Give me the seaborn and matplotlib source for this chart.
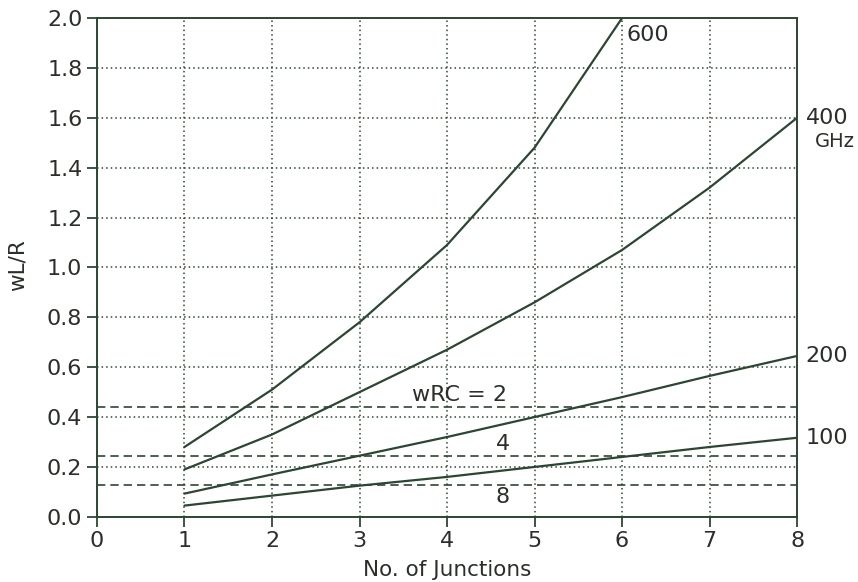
import matplotlib
matplotlib.use("Agg")
import matplotlib.pyplot as plt
import seaborn as sns
import pandas as pd

# data
junctions = [1, 2, 3, 4, 5, 6, 7, 8]
f100 = [0.045, 0.085, 0.125, 0.16, 0.20, 0.24, 0.28, 0.317]
f200 = [0.093, 0.17, 0.245, 0.32, 0.40, 0.48, 0.565, 0.645]
f400 = [0.19, 0.33, 0.50, 0.67, 0.86, 1.07, 1.32, 1.60]
f600 = [0.28, 0.51, 0.78, 1.09, 1.48, 2.0]
wrc_levels = [0.441, 0.243, 0.126]
wrc_labels = ["wRC = 2", "4", "8"]

ink = "#2c4632"
txtc = "#2a2f2a"

sns.set_style("ticks")
plt.rcParams['font.family'] = ['DejaVu Sans']

fig = plt.figure(figsize=(8.58, 5.82), dpi=100)
ax = fig.add_axes([0.113, 0.112, 0.816, 0.857])

rows = []
for name, vals in [("100", f100), ("200", f200), ("400", f400), ("600", f600)]:
    for x, y in zip(junctions, vals):
        rows.append({"n": x, "v": y, "f": name})
df = pd.DataFrame(rows)
sns.lineplot(data=df, x="n", y="v", hue="f", palette=[ink] * 4,
             linewidth=1.6, legend=False, ax=ax, zorder=3)

for lev in wrc_levels:
    ax.axhline(lev, color=ink, lw=1.2, ls=(0, (5, 3)), zorder=2)

ax.set_xlim(0, 8)
ax.set_ylim(0, 2.0)
ax.set_xticks(range(9))
ax.set_yticks([i / 10 for i in range(0, 21, 2)])
ax.set_yticklabels([f"{i/10:.1f}" for i in range(0, 21, 2)])
ax.grid(True, color=ink, ls=(0, (1, 2)), lw=1.1)
for s in ax.spines.values():
    s.set_color(ink)
    s.set_linewidth(1.4)
ax.tick_params(colors=txtc, labelsize=16, length=7, width=1.3, direction="out")
ax.tick_params(axis="both", color=ink)

ax.set_xlabel("No. of Junctions", fontsize=15.5, color=txtc)
ax.set_ylabel("wL/R", fontsize=15.5, color=txtc)
ax.xaxis.set_label_coords(0.5, -0.106)
ax.xaxis.label.set_va("center")
ax.yaxis.set_label_coords(-0.113, 0.505)
ax.yaxis.label.set_va("center")

txt = dict(color=txtc, fontsize=16)
ax.text(6.05, 1.93, "600", ha="left", va="center", **txt)
ax.text(8.1, 1.60, "400", ha="left", va="center", clip_on=False, **txt)
ax.text(8.2, 1.505, "GHz", ha="left", va="center", clip_on=False, color=txtc, fontsize=14)
ax.text(8.1, 0.645, "200", ha="left", va="center", clip_on=False, **txt)
ax.text(8.1, 0.317, "100", ha="left", va="center", clip_on=False, **txt)
ax.text(3.6, 0.49, wrc_labels[0], ha="left", va="center", **txt)
ax.text(4.64, 0.29, wrc_labels[1], ha="center", va="center", **txt)
ax.text(4.64, 0.08, wrc_labels[2], ha="center", va="center", **txt)

fig.savefig("out.png", dpi=100)
